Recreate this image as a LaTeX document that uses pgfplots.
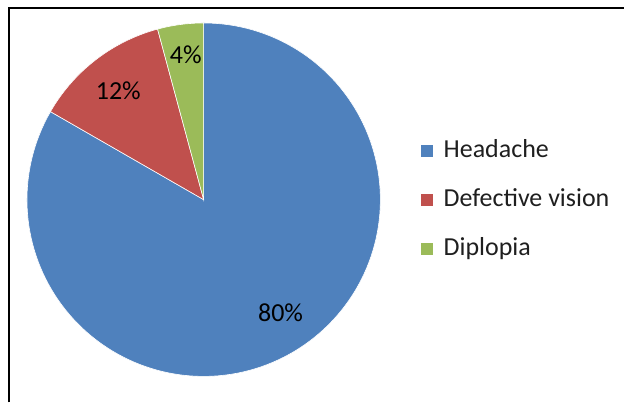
\documentclass[border=0pt]{standalone}
\usepackage{pgfplots}
\pgfplotsset{compat=1.18}
\usepackage{fontspec}
\setmainfont{Carlito}
\definecolor{cHead}{HTML}{4F81BD}
\definecolor{cDef}{HTML}{C0504D}
\definecolor{cDip}{HTML}{9BBB59}
\definecolor{txt}{HTML}{1F1F1F}
\begin{document}
\begin{tikzpicture}
% shares (percent of the pie)
\def\vA{83.3}% Headache
\def\vB{12.5}% Defective vision
\def\vC{4.2}% Diplopia
\pgfmathsetmacro\aZero{90}
\pgfmathsetmacro\aOne{90-3.6*\vA}
\pgfmathsetmacro\aTwo{\aOne-3.6*\vB}
\pgfmathsetmacro\aThree{\aTwo-3.6*\vC}
\begin{axis}[
  scale only axis, width=312.5pt, height=201.5pt,
  xmin=0, xmax=625, ymin=0, ymax=403,
  hide axis, clip=false,
  legend cell align=left,
  legend style={at={(axis cs:415,202)}, anchor=west, draw=none, fill=none,
    font=\fontsize{13}{15}\selectfont, text=txt,
    nodes={inner sep=0pt, text height=9pt, text depth=3pt},
    row sep=12.5pt, column sep=5.5pt},
  legend image code/.code={\fill[#1, draw=none] (0pt,-2.5pt) rectangle (6pt,3.5pt);},
]
\path (axis cs:0,0) rectangle (axis cs:625,403);
\addplot[fill=cHead, draw=white, line width=0.3pt, domain=\aOne:\aZero, samples=150, variable=\t]
  ({204+177*cos(\t)}, {203+177*sin(\t)}) -- (axis cs:204,203) -- cycle;
\addlegendentry{Headache}
\addplot[fill=cDef, draw=white, line width=0.3pt, domain=\aTwo:\aOne, samples=40, variable=\t]
  ({204+177*cos(\t)}, {203+177*sin(\t)}) -- (axis cs:204,203) -- cycle;
\addlegendentry{Defective vision}
\addplot[fill=cDip, draw=white, line width=0.3pt, domain=\aThree:\aTwo, samples=20, variable=\t]
  ({204+177*cos(\t)}, {203+177*sin(\t)}) -- (axis cs:204,203) -- cycle;
\addlegendentry{Diplopia}
\node[font=\fontsize{13}{15}\selectfont, text=black] at (axis cs:186,348) {4\%};
\node[font=\fontsize{13}{15}\selectfont, text=black] at (axis cs:118.5,312) {12\%};
\node[font=\fontsize{13}{15}\selectfont, text=black] at (axis cs:281,90) {80\%};
\draw[black, line width=1pt] (axis cs:9,0) -- (axis cs:9,395) -- (axis cs:625,395);
\end{axis}
\end{tikzpicture}
\end{document}
